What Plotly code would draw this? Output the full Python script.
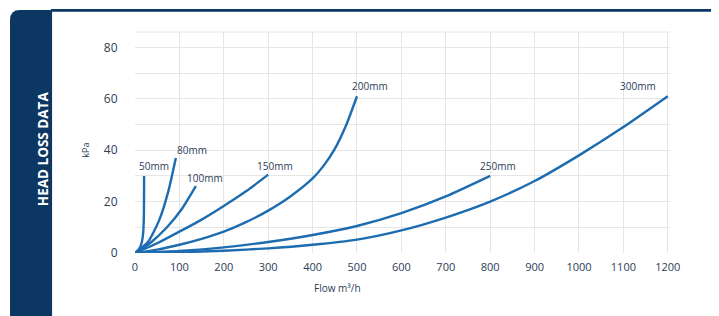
import plotly.graph_objects as go

# ---- data (Flow m³/h vs head loss kPa) ----
pipe_sizes = ["50mm", "80mm", "100mm", "150mm", "200mm", "250mm", "300mm"]

flow_50 = [0, 9, 15, 18.5, 20, 20.5]
kpa_50 = [0, 1.5, 4, 8, 15, 30]

flow_80 = [0, 30, 55, 75, 92]
kpa_80 = [0, 4.5, 13, 24, 37]

flow_100 = [0, 35, 72, 105, 137]
kpa_100 = [0, 4, 10, 17, 26]

flow_150 = [0, 50, 100, 150, 200, 250, 300]
kpa_150 = [0, 3.8, 8.3, 13, 18.3, 24, 30.5]

flow_200 = [0, 50, 100, 150, 200, 250, 300, 350, 400, 425, 450, 475, 500]
kpa_200 = [0, 1.3, 3.2, 5.5, 8.3, 12, 16.5, 22, 29, 34, 40.5, 49.5, 61]

flow_250 = [0, 100, 200, 300, 400, 500, 600, 700, 800]
kpa_250 = [0, 0.8, 2.2, 4.3, 7, 10.5, 15.5, 22, 30]

flow_300 = [0, 100, 200, 300, 400, 500, 600, 700, 800, 900, 1000, 1100, 1200]
kpa_300 = [0, 0.3, 0.9, 1.8, 3.2, 5.2, 8.8, 13.8, 20, 28, 38, 49, 61]

# label anchor positions (data coords)
label_x = [42, 128, 158, 315, 529, 817, 1132]
label_y = [34, 40, 29, 34, 65, 34, 65]

x_ticks = [0, 100, 200, 300, 400, 500, 600, 700, 800, 900, 1000, 1100, 1200]
y_ticks = [0, 20, 40, 60, 80]

series = [
    (flow_50, kpa_50), (flow_80, kpa_80), (flow_100, kpa_100),
    (flow_150, kpa_150), (flow_200, kpa_200), (flow_250, kpa_250),
    (flow_300, kpa_300),
]

LINE = "#1d6cb0"
NAVY = "#0c3763"
TXT = "#2c3c58"

fig = go.Figure()
for name, (xs, ys) in zip(pipe_sizes, series):
    fig.add_trace(go.Scatter(
        x=xs, y=ys, mode="lines", name=name,
        line=dict(color=LINE, width=2.4, shape="spline", smoothing=0.6),
        showlegend=False, hoverinfo="skip",
    ))

for name, lx, ly in zip(pipe_sizes, label_x, label_y):
    fig.add_annotation(x=lx, y=ly, text=name, showarrow=False,
                       font=dict(family="Open Sans", size=10, color=TXT),
                       xanchor="center", yanchor="middle")

# axis titles as annotations
fig.add_annotation(xref="paper", yref="paper", x=0.379, y=-0.2,
                   text="Flow m³/h", showarrow=False,
                   font=dict(family="Open Sans", size=10, color=TXT))
fig.add_annotation(xref="paper", yref="paper", x=-0.11, y=0.466,
                   text="kPa", showarrow=False, textangle=-90,
                   font=dict(family="Open Sans", size=9, color=TXT))

# left navy band with rounded top-left corner
x0, x1 = -0.2336, -0.155
y0, y1 = -0.3, 1.0995
rx, ry = 0.0187, 0.045
fig.add_shape(type="path", xref="paper", yref="paper",
              path=(f"M {x0},{y0} L {x0},{y1-ry} Q {x0},{y1} {x0+rx},{y1} "
                    f"L {x1},{y1} L {x1},{y0} Z"),
              fillcolor=NAVY, line=dict(width=0), layer="below")
# top navy rule
fig.add_shape(type="rect", xref="paper", yref="paper",
              x0=x1 - 0.002, x1=1.080, y0=1.092, y1=1.1045,
              fillcolor=NAVY, line=dict(width=0), layer="below")
# light grey strip on the right
fig.add_shape(type="rect", xref="paper", yref="paper",
              x0=1.080, x1=1.2, y0=-0.3, y1=1.2,
              fillcolor="#f2f3f5", line=dict(width=0), layer="below")
# top grid border
fig.add_shape(type="line", xref="paper", yref="paper",
              x0=0, x1=1, y0=1, y1=1,
              line=dict(color="#e6e6e6", width=1), layer="below")

fig.add_annotation(xref="paper", yref="paper", x=-0.1925, y=0.47,
                   text="<b>HEAD LOSS DATA</b>", showarrow=False, textangle=-90,
                   font=dict(family="Open Sans", size=13.5, color="white"))

fig.update_layout(
    width=711, height=308,
    margin=dict(l=127, r=49, t=24, b=63),
    paper_bgcolor="white", plot_bgcolor="white",
    xaxis=dict(range=[0, 1205], tickvals=x_ticks, showgrid=True,
               gridcolor="#e6e6e6", gridwidth=1, zeroline=False,
               showline=False, ticks="outside", ticklen=4,
               tickcolor="rgba(0,0,0,0)",
               tickfont=dict(family="Open Sans", size=11, color=TXT)),
    yaxis=dict(range=[0, 86], tickvals=y_ticks, showgrid=True,
               gridcolor="#e6e6e6", gridwidth=1, zeroline=False,
               showline=False, ticks="outside", ticklen=14,
               tickcolor="rgba(0,0,0,0)",
               minor=dict(dtick=10, tick0=0, showgrid=True,
                          gridcolor="#e6e6e6", gridwidth=1),
               tickfont=dict(family="Open Sans", size=12, color=TXT)),
)

fig.write_html("out.html")
